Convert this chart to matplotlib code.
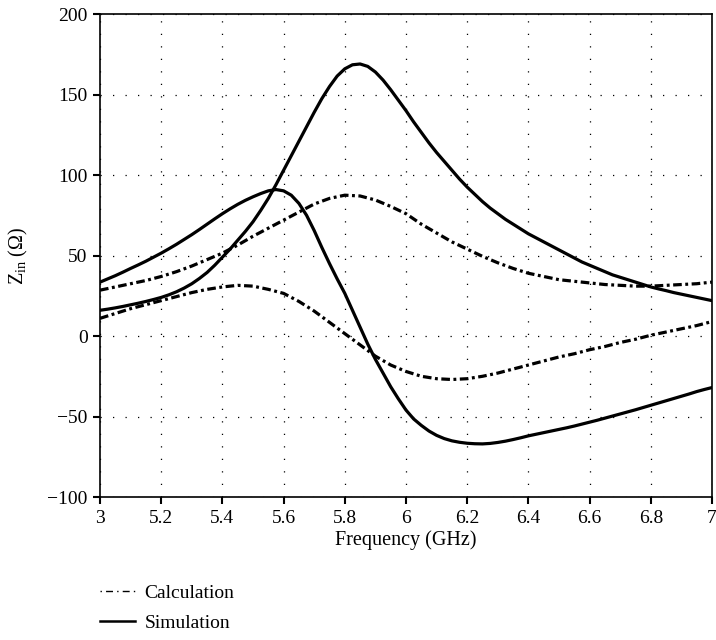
import numpy as np
import matplotlib.pyplot as plt
from matplotlib.lines import Line2D

plt.rcParams['font.family'] = ['Liberation Serif', 'DejaVu Serif']
plt.rcParams['mathtext.fontset'] = 'custom'
plt.rcParams['mathtext.rm'] = 'Liberation Serif'

# simulated input impedance, sampled every 25 MHz
freq_sim = np.round(np.arange(5.0, 7.001, 0.025), 3)
sim_re = [16, 16.7, 17.5, 18.4, 19.4, 20.4, 21.5, 22.7, 24, 25.6,
          27.5, 29.8, 32.5, 35.8, 39.5, 44, 49, 54, 59.5, 65,
          71, 78, 85.5, 94, 103, 112, 121, 130, 139, 147.5,
          155, 161.5, 166, 168.5, 169, 167.5, 164, 159, 153, 146.5,
          140, 133, 126.5, 120, 114, 108.5, 103, 97.5, 92.5, 88,
          83.5, 79.5, 76, 72.5, 69.5, 66.5, 63.5, 61, 58.5, 56,
          53.5, 51, 48.5, 46, 44, 42, 40, 38, 36.5, 35,
          33.5, 32, 30.5, 29.3, 28.2, 27, 26, 25, 24, 23, 22]
sim_im = [33.5, 35.5, 37.5, 39.7, 42, 44.2, 46.5, 49, 51.5, 54.2,
          57, 60, 63, 66.2, 69.5, 72.8, 76, 79, 81.8, 84.3,
          86.5, 88.5, 90.2, 91, 90.2, 87.5, 82.4, 75, 65.5, 55,
          45, 35.5, 26.5, 16, 5.5, -5, -14.5, -23, -31.5, -39,
          -46, -51.5, -55.5, -59, -61.7, -63.7, -65.1, -66, -66.6, -66.9,
          -67, -66.7, -66.1, -65.3, -64.3, -63.2, -62, -61, -60, -59,
          -58, -57, -55.9, -54.7, -53.5, -52.3, -51, -49.7, -48.4, -47.1,
          -45.8, -44.4, -43, -41.6, -40.2, -38.8, -37.4, -36, -34.5, -33.2, -32]

# calculated input impedance, sampled every 50 MHz
freq_calc = np.round(np.arange(5.0, 7.001, 0.05), 2)
calc_re = [28.5, 30.5, 32.5, 34.5, 37, 40, 43.5, 47.5, 51.5, 56.5,
           62, 67, 72, 77, 82, 85.5, 87.5, 87, 84.5, 80.5,
           76, 69.5, 64, 58.5, 54, 49.5, 45.5, 42, 39, 37,
           35, 34, 33, 32, 31.5, 31, 31, 31.5, 32, 32.5, 33.5]
calc_im = [11, 14, 17, 19.5, 22, 24.5, 27, 29, 30.5, 31.5,
           31, 29, 26.5, 21.5, 15.5, 8.5, 1.5, -5.5, -12.5, -18,
           -22, -25, -26.5, -27, -26.5, -25, -23, -20.5, -18, -15.5,
           -13, -11, -8.5, -6.5, -4, -2, 0.5, 2.5, 4.5, 6.5, 9]

xticks = [5.0, 5.2, 5.4, 5.6, 5.8, 6.0, 6.2, 6.4, 6.6, 6.8, 7.0]
xtick_labels = ['3', '5.2', '5.4', '5.6', '5.8', '6', '6.2', '6.4', '6.6', '6.8', '7']
yticks = [-100, -50, 0, 50, 100, 150, 200]
ytick_labels = ['\u2212100', '\u221250', '0', '50', '100', '150', '200']

fig = plt.figure(figsize=(7.16, 6.4), dpi=100)
ax = fig.add_axes([0.1397, 0.2234, 0.8547, 0.7546])

dashdot = (2.7, 1.1, 0.9, 1.1)
lw = 2.3
ax.plot(freq_sim, sim_re, color='black', lw=lw)
ax.plot(freq_sim, sim_im, color='black', lw=lw)
ax.plot(freq_calc, calc_re, color='black', lw=lw, dashes=dashdot)
ax.plot(freq_calc, calc_im, color='black', lw=lw, dashes=dashdot)

ax.set_xlim(5.0, 7.0)
ax.set_ylim(-100, 200)
ax.set_xticks(xticks)
ax.set_xticklabels(xtick_labels)
ax.set_yticks(yticks)
ax.set_yticklabels(ytick_labels)
ax.tick_params(direction='out', length=5, width=1.5, labelsize=14,
               top=False, right=False, pad=4)
for s in ax.spines.values():
    s.set_linewidth(1.2)

ax.grid(True, color='black', lw=0.9, linestyle=(0, (1, 9)))

ax.set_xlabel('Frequency (GHz)', fontsize=14.5, labelpad=3)
ax.set_ylabel(r'$\mathregular{Z_{in}}$ ($\Omega$)', fontsize=14.5, labelpad=12)

handles = [Line2D([], [], color='black', lw=1.0, dashes=(1, 3, 5, 3)),
           Line2D([], [], color='black', lw=1.8)]
fig.legend(handles, ['Calculation', 'Simulation'], loc='upper left',
           bbox_to_anchor=(0.1397, 0.087), frameon=False, fontsize=14,
           handlelength=1.8, handletextpad=0.5, labelspacing=0.65,
           borderaxespad=0, borderpad=0)

fig.savefig('out.png', dpi=100)
